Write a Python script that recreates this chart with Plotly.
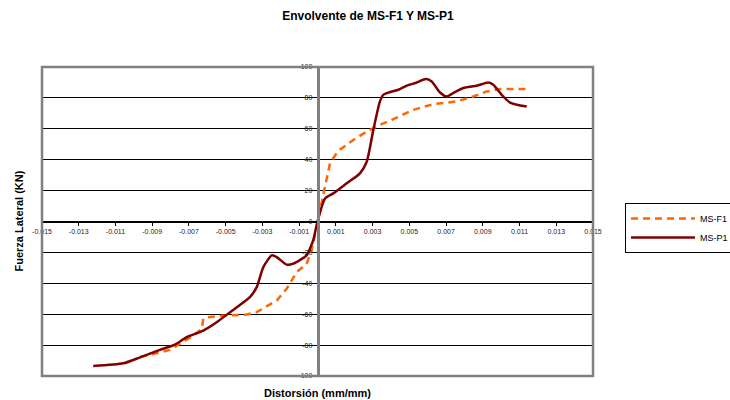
import plotly.graph_objects as go

# MS-F1 (orange dashed)
f1_x = [-0.00966, -0.0093, -0.00803, -0.0074, -0.00676, -0.0063, -0.00622, -0.00594, -0.00494,
        -0.00385, -0.00331, -0.00222, -0.00168, -0.00113, -0.00059, -0.00032, 0.00014, 0.00041,
        0.00068, 0.00104, 0.00122, 0.00195, 0.00268, 0.0034, 0.00413, 0.00522, 0.00631, 0.00758,
        0.00848, 0.00921, 0.00994, 0.01139]
f1_y = [-87.5, -86.8, -83.1, -78.2, -73.8, -69.5, -63.0, -61.9, -60.8,
        -60.2, -58.7, -51.1, -43.5, -32.7, -27.3, -18.6, 7.3, 22.0,
        37.7, 44.2, 46.5, 52.8, 58.2, 62.5, 66.2, 72.3, 76.0, 77.7,
        80.9, 84.2, 85.7, 85.7]

# MS-P1 (dark red solid)
p1_x = [-0.01221, -0.01057, -0.00966, -0.00858, -0.00776, -0.00712, -0.00622, -0.00549, -0.00476,
        -0.00368, -0.00331, -0.00295, -0.00249, -0.00222, -0.00168, -0.00132, -0.00059, -0.00041,
        -0.00023, 0.0, 0.00041, 0.00086, 0.00159, 0.00231, 0.00268, 0.00304, 0.0034, 0.00358,
        0.00395, 0.0044, 0.00486, 0.0054, 0.00591, 0.00622, 0.00667, 0.00703, 0.00739, 0.00794,
        0.00867, 0.0093, 0.00957, 0.01003, 0.01048, 0.01139]
p1_y = [-93.5, -91.8, -87.9, -83.1, -79.7, -74.9, -70.6, -65.2, -58.7,
        -49.0, -42.5, -29.5, -21.9, -23.0, -27.9, -27.3, -21.9, -17.5,
        -12.1, 0.0, 14.9, 18.2, 24.7, 31.2, 38.7, 59.3, 77.7, 82.0,
        83.8, 85.3, 87.9, 90.0, 92.2, 90.6, 83.5, 80.9, 83.1, 86.4,
        87.9, 90.0, 88.5, 82.0, 77.0, 74.4]

x_ticks = [-0.015, -0.013, -0.011, -0.009, -0.007, -0.005, -0.003, -0.001,
           0.001, 0.003, 0.005, 0.007, 0.009, 0.011, 0.013, 0.015]
x_ticklabels = ["-0.015", "-0.013", "-0.011", "-0.009", "-0.007", "-0.005", "-0.003", "-0.001",
                "0.001", "0.003", "0.005", "0.007", "0.009", "0.011", "0.013", "0.015"]
y_ticks = [100, 80, 60, 40, 20, 0, -20, -40, -60, -80, -100]
y_ticklabels = ["100", "80", "60", "40", "20", "0", "-20", "-40", "-60", "-80", "-100"]

fig = go.Figure()
fig.add_trace(go.Scatter(x=f1_x, y=f1_y, mode="lines", name="MS-F1",
                         line=dict(color="#FF6600", width=2.5, dash="7px,5px")))
fig.add_trace(go.Scatter(x=p1_x, y=p1_y, mode="lines", name="MS-P1",
                         line=dict(color="#800000", width=2.5, shape="spline", smoothing=0.6)))

font = "Liberation Sans, Arial, sans-serif"
fig.update_layout(
    width=730, height=400,
    margin=dict(l=42, r=137, t=67, b=24, autoexpand=False),
    paper_bgcolor="white", plot_bgcolor="white",
    font=dict(family=font, color="black"),
    title=dict(text="<b>Envolvente de MS-F1 Y MS-P1</b>", x=368/730, xanchor="center",
               y=1 - 16/400, yanchor="middle", font=dict(size=12, family=font)),
    xaxis=dict(range=[-0.015, 0.015], anchor="free", position=0.5,
               tickvals=x_ticks, ticktext=x_ticklabels, tickfont=dict(size=7, color="#222"),
               showgrid=False, zeroline=False, showline=True, linecolor="black", linewidth=1,
               ticks="outside", ticklen=3, tickcolor="black"),
    yaxis=dict(range=[-100, 100], anchor="free", position=0.5,
               tickvals=y_ticks, ticktext=y_ticklabels, tickfont=dict(size=7, color="#222"),
               showgrid=True, gridcolor="black", gridwidth=1, zeroline=False,
               showline=True, linecolor="#808080", linewidth=2.5,
               ticks="outside", ticklen=3, tickcolor="black"),
    legend=dict(x=1.058, y=0.56, xanchor="left", yanchor="top", bordercolor="black", borderwidth=1,
                bgcolor="white", font=dict(size=9, family=font), itemwidth=64,
                tracegroupgap=2),
    showlegend=True,
)
fig.add_shape(type="rect", xref="x domain", yref="y domain", x0=0, x1=1, y0=0, y1=1,
              line=dict(color="#808080", width=2.5), layer="above")
fig.add_annotation(text="<b>Fuerza Lateral (KN)</b>", xref="paper", yref="paper",
                   x=-24/551, y=0.5, textangle=-90, showarrow=False,
                   font=dict(size=11, family=font), xanchor="center", yanchor="middle")
fig.add_annotation(text="<b>Distorsión (mm/mm)</b>", xref="paper", yref="paper",
                   x=0.5, y=-17/309, showarrow=False,
                   font=dict(size=11, family=font), xanchor="center", yanchor="middle")

fig.write_html("out.html")
